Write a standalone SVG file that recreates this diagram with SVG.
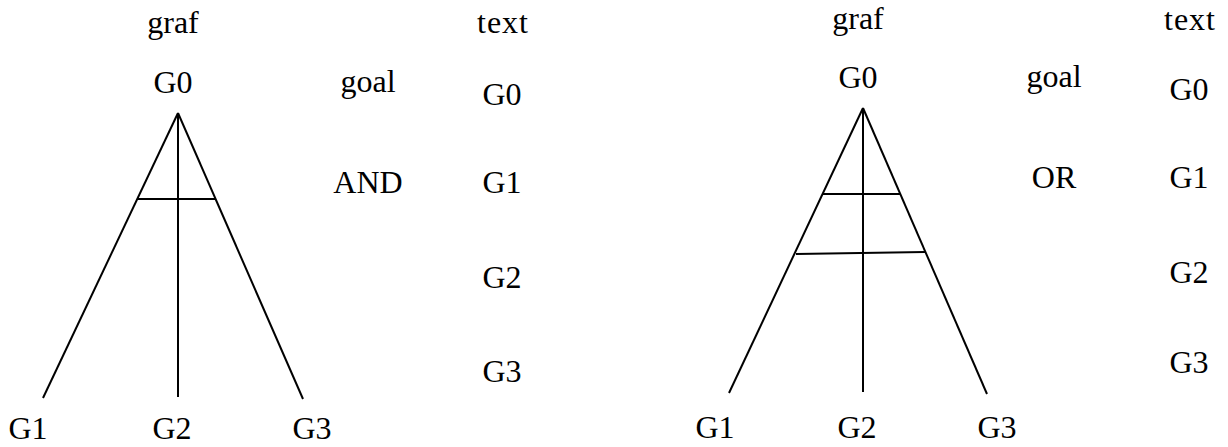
<svg xmlns="http://www.w3.org/2000/svg" width="1228" height="447" viewBox="0 0 1228 447">
<style>
text{font-family:"Liberation Serif","Times New Roman",serif;font-size:32px;fill:#000;text-anchor:middle}
line{stroke:#000;stroke-width:2;stroke-linecap:butt}
</style>
<rect width="1228" height="447" fill="#fff"/>
<g id="and-diagram">
  <g id="and-connectors">
    <line x1="178" y1="113" x2="43" y2="398"/>
    <line x1="178" y1="113" x2="178" y2="397"/>
    <line x1="178" y1="113" x2="303" y2="399"/>
    <line x1="137" y1="199" x2="215" y2="199"/>
  </g>
  <g id="and-labels">
    <text x="173" y="33">graf</text>
    <text x="173" y="93">G0</text>
    <text x="368" y="92">goal</text>
    <text x="368" y="193">AND</text>
    <text x="28" y="439">G1</text>
    <text x="172" y="439">G2</text>
    <text x="312" y="439">G3</text>
  </g>
  <g id="and-text-column">
    <text x="503" y="33" letter-spacing="1">text</text>
    <text x="502" y="105">G0</text>
    <text x="502" y="193">G1</text>
    <text x="502" y="288">G2</text>
    <text x="502" y="382">G3</text>
  </g>
</g>
<g id="or-diagram">
  <g id="or-connectors">
    <line x1="863" y1="108" x2="729" y2="393"/>
    <line x1="863" y1="108" x2="863" y2="392"/>
    <line x1="863" y1="108" x2="987" y2="394"/>
    <line x1="823" y1="194" x2="900" y2="194"/>
    <line x1="796" y1="254" x2="925" y2="252"/>
  </g>
  <g id="or-labels">
    <text x="858" y="29">graf</text>
    <text x="858" y="88">G0</text>
    <text x="1054" y="87">goal</text>
    <text x="1054" y="188">OR</text>
    <text x="715" y="438">G1</text>
    <text x="857" y="438">G2</text>
    <text x="997" y="438">G3</text>
  </g>
  <g id="or-text-column">
    <text x="1190" y="30" letter-spacing="1">text</text>
    <text x="1189" y="100">G0</text>
    <text x="1189" y="188">G1</text>
    <text x="1189" y="283">G2</text>
    <text x="1189" y="373">G3</text>
  </g>
</g>
</svg>
